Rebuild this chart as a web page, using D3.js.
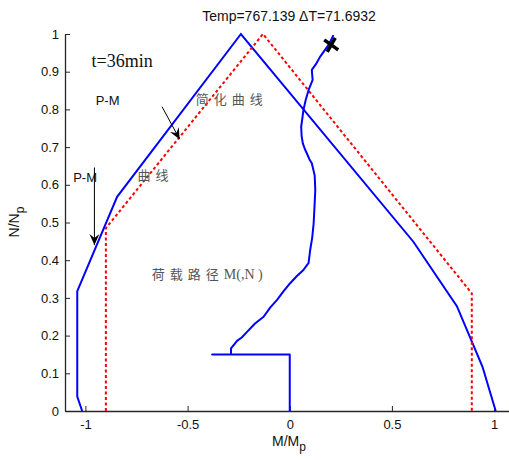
<!DOCTYPE html>
<html>
<head>
<meta charset="utf-8">
<script src="https://cdn.jsdelivr.net/npm/d3@7"></script>
<style>
  body { margin: 0; background: #fff; }
  svg { display: block; }
  text { font-family: Arial, "Liberation Sans", sans-serif; }
</style>
</head>
<body>
<svg id="chart" width="509" height="460"></svg>
<script>
// P-M interaction curve (M/Mp, N/Np)
const pmCurve = [
    [-1.016, 0], [-1.04, 0.038], [-1.04, 0.318], [-0.845, 0.568],
    [-0.239, 1.0], [0.605, 0.449], [0.818, 0.278], [0.943, 0.118], [1.008, 0]
];

// simplified curve
const simpleCurve = [
    [-0.9, 0], [-0.9, 0.485], [-0.131, 1.0], [0.891, 0.312], [0.891, 0]
];

// load path M(,N)
const loadPath = [
    [0, 0], [0, 0.15], [-0.38, 0.15], [-0.2875, 0.15], [-0.2875, 0.166],
    [-0.258, 0.186], [-0.235, 0.195], [-0.209, 0.21], [-0.17, 0.232],
    [-0.128, 0.25], [-0.095, 0.275], [-0.063, 0.294], [-0.03, 0.318],
    [0.002, 0.339], [0.035, 0.358], [0.067, 0.374], [0.084, 0.387], [0.092, 0.392],
    [0.1, 0.427], [0.11, 0.46], [0.117, 0.498], [0.121, 0.54], [0.125, 0.586],
    [0.122, 0.625], [0.108, 0.657], [0.096, 0.668], [0.084, 0.683], [0.074, 0.695],
    [0.064, 0.71], [0.058, 0.73], [0.056, 0.754], [0.067, 0.798], [0.078, 0.825],
    [0.092, 0.851], [0.112, 0.878], [0.108, 0.905], [0.128, 0.92], [0.149, 0.94],
    [0.19, 0.971], [0.214, 0.997]
];

const endMarker = [0.203, 0.971];

const xTicks = [-1, -0.5, 0, 0.5, 1];
const yTicks = [0, 0.1, 0.2, 0.3, 0.4, 0.5, 0.6, 0.7, 0.8, 0.9, 1];

const title = "Temp=767.139 \u0394T=71.6932";

const svg = d3.select("#chart");

const X = d3.scaleLinear().domain([-1.1, 1.1]).range([65, 514.5]);
const Y = d3.scaleLinear().domain([0, 1]).range([411, 34]);

const line = d3.line().x(d => X(d[0])).y(d => Y(d[1]));

// axes (MATLAB style, inward ticks)
const axisColor = "#262626";
const xAxis = svg.append("g").attr("transform", `translate(0,${Y(0)})`)
    .call(d3.axisBottom(X).tickValues(xTicks).tickSizeInner(-5).tickSizeOuter(0)
        .tickFormat(d => String(d)));
const yAxis = svg.append("g").attr("transform", `translate(${X(-1.1)},0)`)
    .call(d3.axisLeft(Y).tickValues(yTicks).tickSizeInner(-5).tickSizeOuter(0)
        .tickFormat(d => String(d)));

[xAxis, yAxis].forEach(function (g) {
    g.select(".domain").attr("stroke", axisColor).attr("stroke-width", 1.3);
    g.selectAll(".tick line").attr("stroke", axisColor).attr("stroke-width", 1);
    g.selectAll(".tick text").attr("fill", "#111").style("font-size", "13px")
        .style("font-family", "Arial, 'Liberation Sans', sans-serif");
});
xAxis.selectAll(".tick text").attr("dy", "0.71em").attr("y", 9);
yAxis.selectAll(".tick text").attr("x", -6);

// curves
svg.append("path").datum(pmCurve).attr("d", line)
    .attr("fill", "none").attr("stroke", "#0000ff").attr("stroke-width", 2);
svg.append("path").datum(simpleCurve).attr("d", line)
    .attr("fill", "none").attr("stroke", "#ff0000").attr("stroke-width", 2)
    .attr("stroke-dasharray", "3,2.5");
svg.append("path").datum(loadPath).attr("d", line)
    .attr("fill", "none").attr("stroke", "#0000ff").attr("stroke-width", 2)
    .attr("stroke-linejoin", "round");

// end marker (x)
const mx = X(endMarker[0]), my = Y(endMarker[1]);
svg.append("path")
    .attr("d", `M${mx - 7},${my - 5}L${mx + 7},${my + 5}M${mx - 4},${my + 7}L${mx + 4},${my - 7}`)
    .attr("stroke", "#000").attr("stroke-width", 3.5).attr("fill", "none");

// title and labels
svg.append("text").attr("x", 289).attr("y", 21).attr("text-anchor", "middle")
    .style("font-size", "14px").attr("fill", "#111").text(title);

const xl = svg.append("text").attr("x", 289).attr("y", 446).attr("text-anchor", "middle")
    .style("font-size", "14px").attr("fill", "#111");
xl.append("tspan").text("M/M");
xl.append("tspan").attr("dy", 5).style("font-size", "12px").text("p");

const yl = svg.append("text").attr("transform", "translate(19,222) rotate(-90)")
    .attr("text-anchor", "middle").style("font-size", "14px").attr("fill", "#111");
yl.append("tspan").text("N/N");
yl.append("tspan").attr("dy", 5).style("font-size", "12px").text("p");

// annotations
const serif = "'Liberation Serif', 'DejaVu Serif', serif";
svg.append("text").attr("x", X(-0.97)).attr("y", 67)
    .style("font-family", serif)
    .style("font-size", "18px").attr("fill", "#111").text("t=36min");

const cjk = "'Noto Sans CJK SC', sans-serif";
svg.append("text").attr("x", X(-0.95)).attr("y", 105)
    .style("font-size", "13px").attr("fill", "#111").text("P-M");
svg.append("text").attr("x", X(-0.46)).attr("y", 104)
    .style("font-family", cjk).style("font-size", "13px").style("letter-spacing", "5px")
    .attr("fill", "#555").text("简化曲线");
svg.append("text").attr("x", X(-1.06)).attr("y", 182)
    .style("font-size", "13px").attr("fill", "#111").text("P-M");
svg.append("text").attr("x", X(-0.745)).attr("y", 180)
    .style("font-family", cjk).style("font-size", "13px").style("letter-spacing", "5px")
    .attr("fill", "#555").text("曲线");
const lp = svg.append("text").attr("x", X(-0.675)).attr("y", 279)
    .style("font-size", "13px").attr("fill", "#555");
lp.append("tspan").style("font-family", cjk).style("letter-spacing", "5px").text("荷载路径");
lp.append("tspan").style("font-family", serif).style("font-size", "14px").text("M(,N )");

// arrows
function arrow(x1, y1, x2, y2) {
    const ang = Math.atan2(y2 - y1, x2 - x1);
    svg.append("line").attr("x1", x1).attr("y1", y1).attr("x2", x2).attr("y2", y2)
        .attr("stroke", "#000").attr("stroke-width", 1);
    const L = 11, W = 5, back = 4;
    const p = (a, b) => [x2 + a * Math.cos(ang) - b * Math.sin(ang), y2 + a * Math.sin(ang) + b * Math.cos(ang)];
    const pts = [p(0, 0), p(-L, -W), p(-L + back, 0), p(-L, W)];
    svg.append("path").attr("d", "M" + pts.join("L") + "Z").attr("fill", "#000");
}
arrow(X(-0.625), Y(0.807), X(-0.539), Y(0.721));
arrow(X(-0.956), Y(0.646), X(-0.956), Y(0.44));
</script>
</body>
</html>
